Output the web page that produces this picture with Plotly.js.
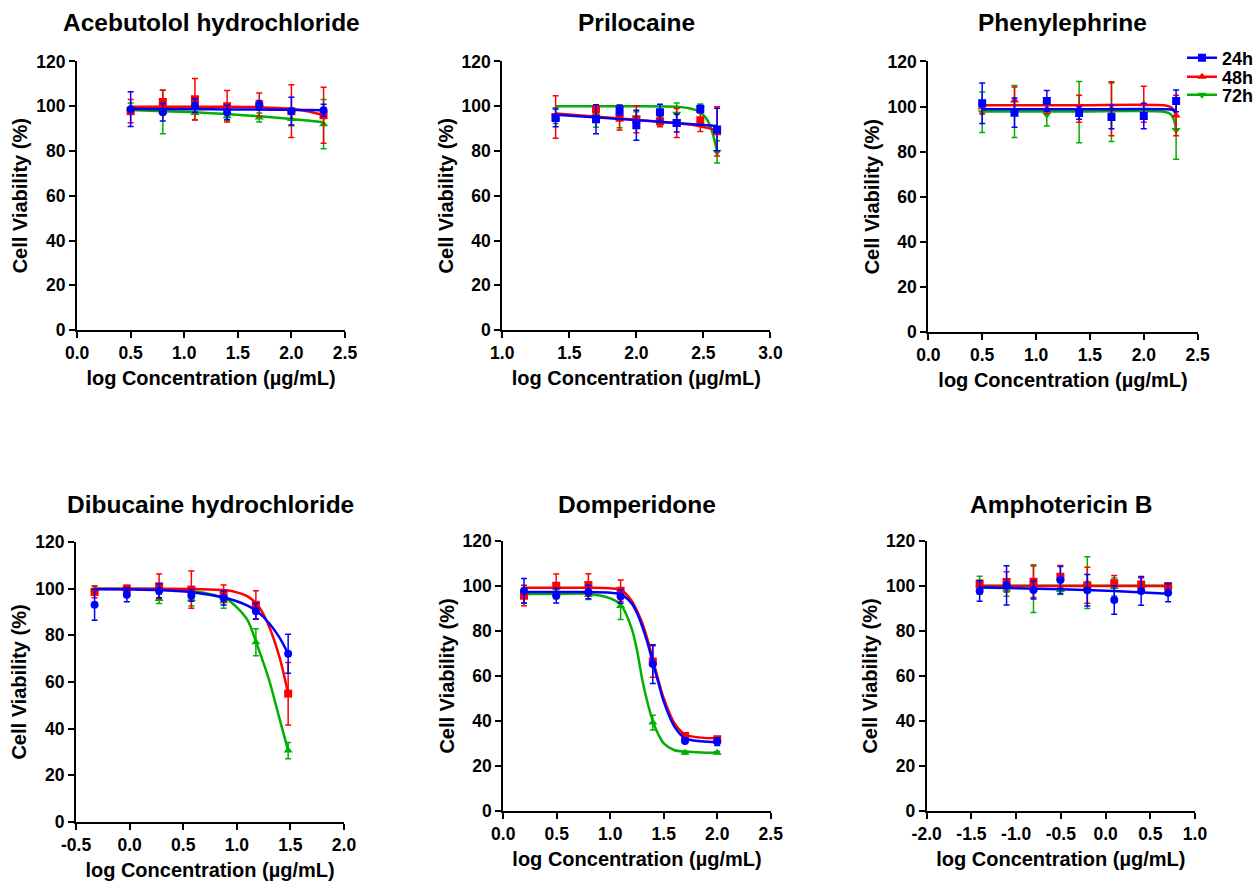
<!DOCTYPE html>
<html>
<head>
<meta charset="utf-8">
<script src="https://cdn.plot.ly/plotly-3.0.1.min.js"></script>
<style>html,body{margin:0;padding:0;background:#fff;}#chart{width:1255px;height:881px;}</style>
</head>
<body>
<div id="chart"></div>
<script>
// ---------- DATA ----------
const panelTitles = ['Acebutolol hydrochloride', 'Prilocaine', 'Phenylephrine', 'Dibucaine hydrochloride', 'Domperidone', 'Amphotericin B'];
const seriesNames = ['24h', '48h', '72h'];
const xTitle = 'log Concentration (µg/mL)';
const yTitle = 'Cell Viability (%)';

const yTickVals = [0, 20, 40, 60, 80, 100, 120];
const yTickText = ['0', '20', '40', '60', '80', '100', '120'];
const aceTickVals = [0, 0.5, 1, 1.5, 2, 2.5];
const aceTickText = ['0.0', '0.5', '1.0', '1.5', '2.0', '2.5'];
const priTickVals = [1, 1.5, 2, 2.5, 3];
const priTickText = ['1.0', '1.5', '2.0', '2.5', '3.0'];
const pheTickVals = [0, 0.5, 1, 1.5, 2, 2.5];
const pheTickText = ['0.0', '0.5', '1.0', '1.5', '2.0', '2.5'];
const dibTickVals = [-0.5, 0, 0.5, 1, 1.5, 2];
const dibTickText = ['-0.5', '0.0', '0.5', '1.0', '1.5', '2.0'];
const domTickVals = [0, 0.5, 1, 1.5, 2, 2.5];
const domTickText = ['0.0', '0.5', '1.0', '1.5', '2.0', '2.5'];
const ampTickVals = [-2, -1.5, -1, -0.5, 0, 0.5, 1];
const ampTickText = ['-2.0', '-1.5', '-1.0', '-0.5', '0.0', '0.5', '1.0'];

// Acebutolol hydrochloride
const aceX = [0.5, 0.8, 1.1, 1.4, 1.7, 2.0, 2.3];
const ace24 = [98.7, 97.3, 100.3, 97.3, 100.4, 97.8, 98.2];
const ace24Err = [7.8, 3.9, 3.0, 3.2, 2.2, 6.2, 2.7];
const ace48 = [97.8, 101.9, 103.1, 100.0, 100.7, 97.8, 96.0];
const ace48Err = [5.2, 5.2, 9.3, 7.0, 5.2, 11.8, 12.5];
const ace72 = [99.0, 97.5, 97.0, 95.5, 95.0, 94.3, 92.0];
const ace72Err = [2.5, 9.8, 3.0, 2.0, 2.0, 3.0, 11.0];
const aceFitX = [0.5, 0.8, 1.1, 1.4, 1.7, 2.0, 2.15, 2.3];
const ace24Fit = [98.8, 98.7, 98.7, 98.6, 98.5, 98.4, 98.3, 98.2];
const ace48Fit = [99.8, 99.8, 99.8, 99.8, 99.6, 98.8, 97.8, 96.0];
const ace72Fit = [98.3, 97.8, 97.3, 96.5, 95.5, 94.3, 93.6, 92.9];

// Prilocaine
const priX = [1.398, 1.699, 1.875, 2.0, 2.176, 2.301, 2.477, 2.602];
const pri24 = [94.8, 94.2, 98.2, 91.5, 97.3, 92.5, 98.8, 89.6];
const pri24Err = [4.0, 6.5, 2.2, 6.7, 3.6, 4.0, 1.7, 9.5];
const pri48 = [95.2, 98.7, 94.9, 94.2, 93.3, 92.5, 93.7, 88.8];
const pri48Err = [9.5, 2.0, 5.5, 6.0, 2.5, 6.5, 5.0, 11.0];
const pri72 = [95.8, 95.6, 95.4, 94.5, 93.3, 96.7, 99.0, 79.6];
const pri72Err = [3.5, 5.0, 5.0, 3.0, 2.0, 4.8, 2.0, 5.0];
const pri24FitX = [1.398, 2.0, 2.602];
const pri24Fit = [96.2, 93.8, 91.2];
const pri48FitX = [1.398, 2.0, 2.4, 2.602];
const pri48Fit = [96.8, 94.0, 91.8, 89.3];
const pri72FitX = [1.398, 2.0, 2.3, 2.35, 2.4, 2.45, 2.5, 2.53, 2.56, 2.58, 2.602];
const pri72Fit = [100, 100, 99.8, 99.5, 99.0, 98.2, 96.0, 93.8, 89.5, 85.5, 79.6];

// Phenylephrine
const pheX = [0.5, 0.8, 1.1, 1.4, 1.7, 2.0, 2.3];
const phe24 = [101.5, 97.3, 102.5, 97.2, 95.4, 95.8, 102.5];
const phe24Err = [9.0, 6.5, 4.6, 2.8, 5.2, 5.6, 4.8];
const phe48 = [99.7, 102.7, 99.0, 99.0, 99.0, 101.0, 96.0];
const phe48Err = [3.0, 6.0, 2.0, 6.0, 12.0, 8.0, 9.0];
const phe72 = [97.5, 97.8, 96.4, 97.5, 97.5, 98.2, 89.6];
const phe72Err = [9.0, 11.5, 5.0, 13.6, 13.0, 3.0, 13.0];
const phe24FitX = [0.5, 1.4, 2.2, 2.27, 2.3];
const phe24Fit = [98.8, 98.8, 98.8, 98.5, 97.5];
const phe48FitX = [0.5, 1.4, 2.2, 2.25, 2.28, 2.3];
const phe48Fit = [100.6, 100.6, 100.5, 99.8, 98.6, 96.0];
const phe72FitX = [0.5, 1.4, 2.2, 2.25, 2.28, 2.3];
const phe72Fit = [97.8, 97.8, 97.6, 96.6, 94.2, 89.6];

// Dibucaine hydrochloride
const dibX = [-0.327, -0.026, 0.275, 0.576, 0.877, 1.178, 1.479];
const dib24 = [93.1, 97.4, 99.1, 97.1, 96.0, 90.3, 72.1];
const dib24Err = [6.6, 3.0, 3.0, 2.5, 3.0, 3.4, 8.4];
const dib48 = [98.6, 100.0, 101.0, 99.6, 98.0, 93.1, 55.0];
const dib48Err = [2.5, 1.5, 5.3, 8.0, 3.6, 6.0, 13.4];
const dib72 = [99.6, 100.0, 95.6, 95.6, 94.6, 77.0, 30.6];
const dib72Err = [1.5, 1.0, 2.0, 3.0, 3.0, 5.8, 3.5];
const dibFitX = [-0.327, 0.0, 0.3, 0.6, 0.9, 1.0, 1.1, 1.2, 1.3, 1.4, 1.479];
const dib24Fit = [99.7, 99.6, 99.3, 98.4, 96.0, 94.6, 92.7, 89.9, 85.3, 78.9, 72.1];
const dib48Fit = [100, 100, 100, 99.9, 99.3, 98.4, 96.7, 92.7, 83.9, 70.3, 55.0];
const dib72Fit = [100, 100, 99.8, 98.9, 95.6, 92.0, 86.5, 74.5, 61.0, 44.0, 30.6];

// Domperidone
const domX = [0.194, 0.495, 0.796, 1.097, 1.398, 1.699, 2.0];
const dom24 = [97.9, 95.7, 97.3, 95.3, 65.3, 31.1, 30.8];
const dom24Err = [5.4, 3.3, 3.0, 3.0, 8.6, 1.0, 1.7];
const dom48 = [95.7, 100.1, 100.4, 97.9, 66.4, 33.3, 31.9];
const dom48Err = [4.5, 5.2, 5.0, 4.8, 7.0, 1.0, 1.0];
const dom72 = [96.3, 96.3, 96.0, 91.1, 39.3, 25.9, 25.9];
const dom72Err = [4.0, 2.0, 2.0, 6.0, 3.3, 0.5, 0.5];
const domFitX = [0.194, 0.5, 0.8, 1.0, 1.1, 1.2, 1.25, 1.3, 1.35, 1.4, 1.45, 1.5, 1.6, 1.7, 1.85, 2.0];
const dom24Fit = [97.3, 97.3, 97.3, 97.0, 96.3, 92.3, 88.0, 81.9, 74.5, 65.6, 57.0, 48.6, 37.5, 32.3, 31.0, 30.5];
const dom48Fit = [99.2, 99.2, 99.2, 99.0, 98.3, 93.5, 89.0, 83.5, 76.0, 67.1, 58.2, 50.1, 39.0, 34.0, 32.6, 32.3];
const dom72Fit = [96.5, 96.5, 96.5, 94.5, 91.6, 81.2, 71.6, 58.2, 47.9, 39.7, 34.0, 30.0, 27.0, 26.4, 26.0, 25.9];

// Amphotericin B
const ampX = [-1.408, -1.107, -0.806, -0.505, -0.204, 0.097, 0.398, 0.699];
const amp24 = [97.8, 100.3, 98.2, 102.7, 98.1, 93.8, 97.8, 97.0];
const amp24Err = [4.6, 8.7, 4.0, 6.0, 7.0, 6.3, 6.4, 4.0];
const amp48 = [101.0, 101.8, 101.9, 104.1, 100.3, 101.2, 100.7, 100.0];
const amp48Err = [1.5, 4.5, 7.0, 5.0, 8.0, 3.5, 3.0, 1.0];
const amp72 = [100.3, 98.5, 98.8, 98.2, 101.5, 99.6, 100.3, 100.0];
const amp72Err = [4.0, 3.0, 10.6, 2.0, 11.5, 4.0, 3.5, 1.0];
const amp24FitX = [-1.408, -0.505, 0.097, 0.699];
const amp24Fit = [99.3, 98.6, 97.8, 96.6];
const amp48FitX = [-1.408, 0.699];
const amp48Fit = [100.0, 100.0];
const amp72FitX = [-1.408, 0.699];
const amp72Fit = [100.1, 100.1];

// ---------- STYLE / LAYOUT ----------
const BLUE = '#0000FF', RED = '#FF0000', GREEN = '#00B000';
const FONT = 'Liberation Sans, Arial, Helvetica, sans-serif';

const panels = [
  {x: aceX, s: [[ace24, ace24Err, aceFitX, ace24Fit, 'circle'], [ace48, ace48Err, aceFitX, ace48Fit, 'square'], [ace72, ace72Err, aceFitX, ace72Fit, 'triangle-up']],
   range: [0, 2.5], tv: aceTickVals, tt: aceTickText, xd: [0.0614, 0.2749], yd: [0.6254, 0.9302]},
  {x: priX, s: [[pri24, pri24Err, pri24FitX, pri24Fit, 'square'], [pri48, pri48Err, pri48FitX, pri48Fit, 'square'], [pri72, pri72Err, pri72FitX, pri72Fit, 'triangle-down']],
   range: [1, 3], tv: priTickVals, tt: priTickText, xd: [0.4002, 0.6139], yd: [0.6254, 0.9302]},
  {x: pheX, s: [[phe24, phe24Err, phe24FitX, phe24Fit, 'square'], [phe48, phe48Err, phe48FitX, phe48Fit, 'triangle-up'], [phe72, phe72Err, phe72FitX, phe72Fit, 'triangle-down']],
   range: [0, 2.5], tv: pheTickVals, tt: pheTickText, xd: [0.7397, 0.9543], yd: [0.6232, 0.9302]},
  {x: dibX, s: [[dib24, dib24Err, dibFitX, dib24Fit, 'circle'], [dib48, dib48Err, dibFitX, dib48Fit, 'square'], [dib72, dib72Err, dibFitX, dib72Fit, 'triangle-up']],
   range: [-0.5, 2], tv: dibTickVals, tt: dibTickText, xd: [0.0606, 0.2741], yd: [0.0670, 0.3848]},
  {x: domX, s: [[dom24, dom24Err, domFitX, dom24Fit, 'circle'], [dom48, dom48Err, domFitX, dom48Fit, 'square'], [dom72, dom72Err, domFitX, dom72Fit, 'triangle-up']],
   range: [0, 2.5], tv: domTickVals, tt: domTickText, xd: [0.4010, 0.6141], yd: [0.0795, 0.3859]},
  {x: ampX, s: [[amp24, amp24Err, amp24FitX, amp24Fit, 'circle'], [amp48, amp48Err, amp48FitX, amp48Fit, 'square'], [amp72, amp72Err, amp72FitX, amp72Fit, 'triangle-up']],
   range: [-2, 1], tv: ampTickVals, tt: ampTickText, xd: [0.7384, 0.9522], yd: [0.0795, 0.3859]}
];
const colors = [BLUE, RED, GREEN];

const traces = [];
const layout = {
  width: 1255, height: 881,
  margin: {l: 0, r: 0, t: 0, b: 0, autoexpand: false},
  paper_bgcolor: '#fff', plot_bgcolor: '#fff',
  showlegend: true,
  hovermode: false,
  font: {family: FONT, color: '#000', size: 15},
  annotations: []
};

// legend entries: one small legend per series, stacked at top right
const legendSymbols = ['square', 'triangle-up', 'triangle-down'];
const legendRowsPx = [58, 77, 95];
const legendIds = ['legend', 'legend2', 'legend3'];
for (let k = 0; k < 3; k++) {
  traces.push({type: 'scatter', mode: 'lines+markers', x: [null], y: [null], xaxis: 'x3', yaxis: 'y3',
    name: seriesNames[k], showlegend: true, legend: legendIds[k],
    line: {color: colors[k], width: 2.5}, marker: {color: colors[k], symbol: legendSymbols[k], size: 8}});
  layout[legendIds[k]] = {
    x: 1182 / 1255, xanchor: 'left', y: 1 - legendRowsPx[k] / 881, yanchor: 'middle',
    bgcolor: 'rgba(0,0,0,0)', borderwidth: 0, itemwidth: 30,
    font: {family: FONT, size: 18, color: '#000', weight: 'bold'}
  };
}

panels.forEach((p, i) => {
  const n = i + 1;
  const xa = 'x' + (n === 1 ? '' : n), ya = 'y' + (n === 1 ? '' : n);
  // draw order: 72h, 48h, 24h (24h on top)
  for (let k = 2; k >= 0; k--) {
    const [vals, errs, fx, fy, sym] = p.s[k];
    traces.push({type: 'scatter', mode: 'lines', x: fx, y: fy, xaxis: xa, yaxis: ya, showlegend: false,
      line: {color: colors[k], width: 2.5, shape: 'spline', smoothing: 0.8}});
    traces.push({type: 'scatter', mode: 'markers', x: p.x, y: vals, xaxis: xa, yaxis: ya, showlegend: false,
      marker: {color: colors[k], symbol: sym, size: 8},
      error_y: {type: 'data', array: errs, visible: true, color: colors[k], thickness: 1.5, width: 3}});
  }
  layout['xaxis' + (n === 1 ? '' : n)] = {
    domain: p.xd, anchor: ya, range: p.range, tickmode: 'array', tickvals: p.tv, ticktext: p.tt,
    showline: true, linecolor: '#000', linewidth: 2, ticks: 'outside', ticklen: 6, tickwidth: 2, tickcolor: '#000',
    showgrid: false, zeroline: false, fixedrange: true,
    tickfont: {family: FONT, size: 17.5, color: '#000', weight: 'bold'},
    title: {text: xTitle, standoff: 9, font: {family: FONT, size: 20, color: '#000', weight: 'bold'}}
  };
  layout['yaxis' + (n === 1 ? '' : n)] = {
    domain: p.yd, anchor: xa, range: [0, 120], tickmode: 'array', tickvals: yTickVals, ticktext: yTickText,
    showline: true, linecolor: '#000', linewidth: 2, ticks: 'outside', ticklen: 6, tickwidth: 2, tickcolor: '#000',
    showgrid: false, zeroline: false, fixedrange: true,
    tickfont: {family: FONT, size: 17.5, color: '#000', weight: 'bold'},
    title: {text: yTitle, standoff: 3, font: {family: FONT, size: 20, color: '#000', weight: 'bold'}}
  };
  layout.annotations.push({
    text: panelTitles[i], xref: 'paper', yref: 'paper', x: (p.xd[0] + p.xd[1]) / 2, y: i < 3 ? 0.975 : 0.4268,
    xanchor: 'center', yanchor: 'middle', showarrow: false,
    font: {family: FONT, size: 24.5, color: '#000', weight: 'bold'}
  });
});

Plotly.newPlot('chart', traces, layout, {displayModeBar: false, staticPlot: true});
</script>
</body>
</html>
